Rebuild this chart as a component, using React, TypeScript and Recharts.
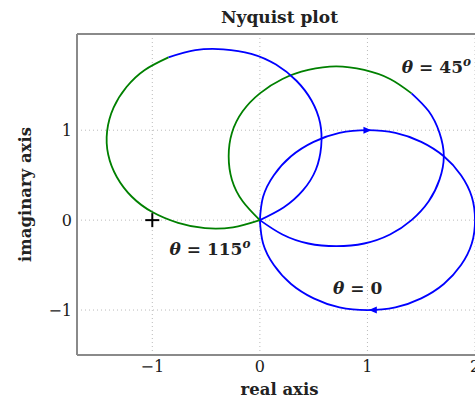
import { ComposedChart, Line, Scatter, XAxis, YAxis, CartesianGrid } from 'recharts';

const FONT = '"DejaVu Serif", serif';
const BLUE = '#0000ff';
const GREEN = '#008000';
const FRAME = '#8a8a8a';

const xTicks = [-1, 0, 1, 2];
const yTicks = [-1, 0, 1];
const xDomain = [-1.7, 2.065];
const yDomain = [-1.5, 2.07];

// theta = 0 : whole loop, blue
const loop0: [number, number][] = [
  [0, 0], [0.03, 0.26], [0.13, 0.5], [0.29, 0.71], [0.5, 0.87], [0.74, 0.97], [1, 1],
  [1.26, 0.97], [1.5, 0.87], [1.71, 0.71], [1.87, 0.5], [1.97, 0.26], [2, 0],
  [1.97, -0.26], [1.87, -0.5], [1.71, -0.71], [1.5, -0.87], [1.26, -0.97], [1, -1],
  [0.74, -0.97], [0.5, -0.87], [0.29, -0.71], [0.13, -0.5], [0.03, -0.26], [0, 0],
];

// theta = 45
const loop45Green: [number, number][] = [
  [0, 0], [-0.16, 0.21], [-0.26, 0.45], [-0.29, 0.71], [-0.26, 0.97], [-0.16, 1.21], [0, 1.41],
  [0.21, 1.57], [0.45, 1.67], [0.71, 1.71], [0.97, 1.67], [1.21, 1.57], [1.41, 1.41],
];
const loop45Blue: [number, number][] = [
  [1.41, 1.41], [1.57, 1.21], [1.67, 0.97], [1.71, 0.71], [1.67, 0.45], [1.57, 0.21], [1.41, 0],
  [1.21, -0.16], [0.97, -0.26], [0.71, -0.29], [0.45, -0.26], [0.21, -0.16], [0, 0],
];

// theta = 115
const loop115Green: [number, number][] = [
  [0, 0], [-0.25, -0.08], [-0.51, -0.09], [-0.76, -0.03], [-1.0, 0.09], [-1.19, 0.26], [-1.33, 0.48],
  [-1.41, 0.73], [-1.42, 0.99], [-1.36, 1.25], [-1.24, 1.48], [-1.07, 1.67], [-0.85, 1.81],
];
const loop115Blue: [number, number][] = [
  [-0.85, 1.81], [-0.6, 1.89], [-0.34, 1.9], [-0.08, 1.85], [0.15, 1.73], [0.34, 1.55], [0.48, 1.33],
  [0.56, 1.08], [0.57, 0.82], [0.52, 0.56], [0.4, 0.33], [0.22, 0.14], [0, 0],
];

const arrows = [
  { x: 1.0, y: 1.0, dir: 1 },
  { x: 1.05, y: -1.0, dir: -1 },
];
const critical = [{ x: -1, y: 0 }];
const thetaLabels = [
  { x: 1.32, y: 1.64, value: '45', deg: true },
  { x: -0.84, y: -0.39, value: '115', deg: true },
  { x: 0.68, y: -0.82, value: '0', deg: false },
];

const toPoints = (arr: [number, number][]) => arr.map(([x, y]) => ({ x, y }));

const ArrowHead = (props: any) => {
  const { cx, cy, payload } = props;
  const d = payload.dir;
  const pts = `${cx + 4 * d},${cy} ${cx - 4 * d},${cy - 3.5} ${cx - 4 * d},${cy + 3.5}`;
  return <polygon points={pts} fill={BLUE} />;
};

const Plus = (props: any) => {
  const { cx, cy } = props;
  return (
    <g stroke="#000" strokeWidth={2}>
      <line x1={cx - 7} x2={cx + 7} y1={cy} y2={cy} />
      <line x1={cx} x2={cx} y1={cy - 7} y2={cy + 7} />
    </g>
  );
};

const ThetaText = (props: any) => {
  const { cx, cy, payload } = props;
  return (
    <text x={cx} y={cy} fontSize={17} fontWeight="bold" fill="#222">
      <tspan fontStyle="italic">θ</tspan>
      <tspan> = {payload.value}</tspan>
      {payload.deg && (
        <tspan fontStyle="italic" fontSize={12} dy={-7}>o</tspan>
      )}
    </text>
  );
};

const fmt = (v: number) => (v < 0 ? `−${-v}` : `${v}`);

export default function App() {
  return (
    <div style={{ position: 'absolute', left: 0, top: 0, width: 475, height: 400, overflow: 'hidden', fontFamily: FONT, background: '#fff' }}>
      <ComposedChart width={490} height={400} margin={{ top: 0, right: 8, bottom: 0, left: 0 }}>
        <CartesianGrid stroke="#bbb" strokeDasharray="1 3" />
        <XAxis
          xAxisId="top"
          orientation="top"
          type="number"
          domain={xDomain}
          allowDataOverflow
          ticks={xTicks}
          tick={false}
          tickLine={false}
          height={34}
          axisLine={{ stroke: FRAME, strokeWidth: 2 }}
          label={{ value: 'Nyquist plot', position: 'insideTop', offset: 11, fill: '#222', fontSize: 17, fontWeight: 'bold' }}
        />
        <XAxis
          dataKey="x"
          type="number"
          domain={xDomain}
          allowDataOverflow
          ticks={xTicks}
          tickFormatter={fmt}
          tick={{ fill: '#1a1a1a', fontSize: 16 }}
          tickLine={false}
          tickSize={6}
          tickMargin={0}
          height={45}
          axisLine={{ stroke: FRAME, strokeWidth: 2 }}
          label={{ value: 'real axis', position: 'insideBottom', offset: 5, fill: '#222', fontSize: 16.5, fontWeight: 'bold' }}
        />
        <YAxis
          dataKey="y"
          type="number"
          domain={yDomain}
          allowDataOverflow
          ticks={yTicks}
          tickFormatter={fmt}
          tick={{ fill: '#1a1a1a', fontSize: 16 }}
          tickLine={false}
          tickSize={4}
          tickMargin={1}
          width={77}
          axisLine={{ stroke: FRAME, strokeWidth: 2 }}
          label={{ value: 'imaginary axis', angle: -90, position: 'insideLeft', offset: 25, fill: '#222', fontSize: 16.5, fontWeight: 'bold', style: { textAnchor: 'middle' } }}
        />
        <Line data={toPoints(loop0)} dataKey="y" type="natural" stroke={BLUE} strokeWidth={1.8} dot={false} isAnimationActive={false} />
        <Line data={toPoints(loop45Blue)} dataKey="y" type="natural" stroke={BLUE} strokeWidth={1.8} dot={false} isAnimationActive={false} />
        <Line data={toPoints(loop45Green)} dataKey="y" type="natural" stroke={GREEN} strokeWidth={1.8} dot={false} isAnimationActive={false} />
        <Line data={toPoints(loop115Blue)} dataKey="y" type="natural" stroke={BLUE} strokeWidth={1.8} dot={false} isAnimationActive={false} />
        <Line data={toPoints(loop115Green)} dataKey="y" type="natural" stroke={GREEN} strokeWidth={1.8} dot={false} isAnimationActive={false} />
        <Scatter data={arrows} shape={(p: any) => <ArrowHead {...p} />} isAnimationActive={false} />
        <Scatter data={critical} shape={(p: any) => <Plus {...p} />} isAnimationActive={false} />
        <Scatter data={thetaLabels} shape={(p: any) => <ThetaText {...p} />} isAnimationActive={false} />
      </ComposedChart>
    </div>
  );
}
